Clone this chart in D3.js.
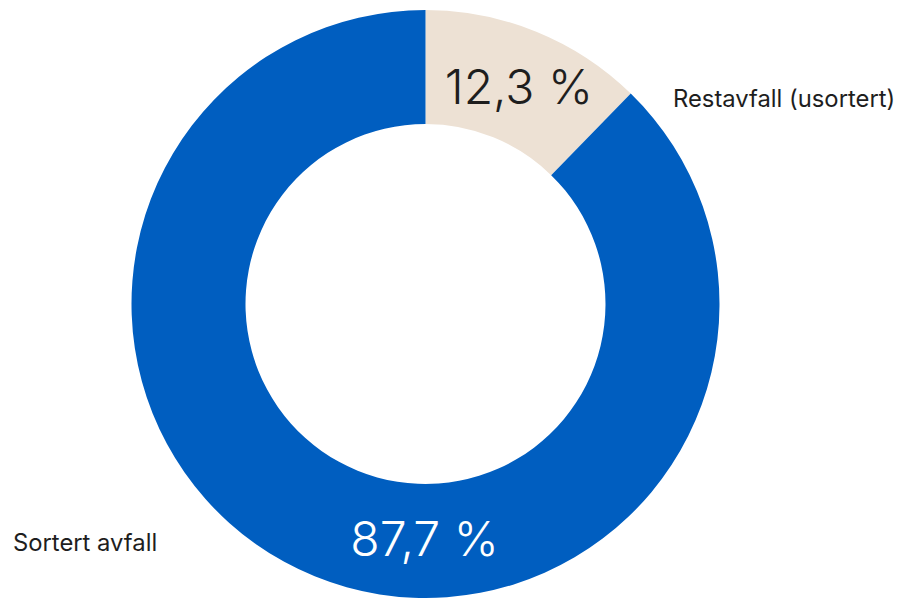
<!DOCTYPE html>
<html>
<head>
<meta charset="utf-8">
<script src="https://cdn.jsdelivr.net/npm/d3@7"></script>
<style>
  body { margin: 0; background: #fff; }
  text { font-family: Inter, "Noto Sans", sans-serif; }
</style>
</head>
<body>
<div class="donut"></div>
<script>
var w = 902;
var h = 599;
var categories = ["Restavfall (usortert)", "Sortert avfall"];
var values = [12.3, 87.7];
var valueLabels = ["12,3 %", "87,7 %"];
var colors = ["#ede1d4", "#005ec0"];
var labelColors = ["#1e1e1e", "#ffffff"];

var cx = 425.5, cy = 304;
var outerR = 294, innerR = 180;

var svg = d3.select(".donut")
            .append("svg")
            .attr("width", w)
            .attr("height", h);

var g = svg.append("g")
           .attr("transform", "translate(" + cx + "," + cy + ")");

var pie = d3.pie().sort(null).value(function (d) { return d; });
var arc = d3.arc().innerRadius(innerR).outerRadius(outerR);
var arcs = pie(values);

g.selectAll("path")
 .data(arcs)
 .enter()
 .append("path")
 .attr("d", arc)
 .attr("fill", function (d, i) { return colors[i]; });

// value labels: small slice at its centroid, big one down at the bottom
var labelAngle = [null, Math.PI];
var labelShift = [[4, 3], [-1, -2]];
g.selectAll(".valueLabel")
 .data(arcs)
 .enter()
 .append("text")
 .attr("class", "valueLabel")
 .attr("transform", function (d, i) {
   var a = labelAngle[i] === null ? (d.startAngle + d.endAngle) / 2 : labelAngle[i];
   var r = (innerR + outerR) / 2;
   return "translate(" + (r * Math.sin(a) + labelShift[i][0]) + "," + (-r * Math.cos(a) + labelShift[i][1]) + ")";
 })
 .attr("text-anchor", "middle")
 .attr("dy", "0.35em")
 .attr("font-size", 48)
 .attr("font-weight", 300)
 .attr("fill", function (d, i) { return labelColors[i]; })
 .text(function (d, i) { return valueLabels[i]; });

// category labels outside the ring
svg.append("text")
   .attr("x", 673).attr("y", 107)
   .attr("font-size", 23.8)
   .attr("fill", "#1e1e1e")
   .text(categories[0]);

svg.append("text")
   .attr("x", 13).attr("y", 551)
   .attr("font-size", 23.8)
   .attr("fill", "#1e1e1e")
   .text(categories[1]);
</script>
</body>
</html>
